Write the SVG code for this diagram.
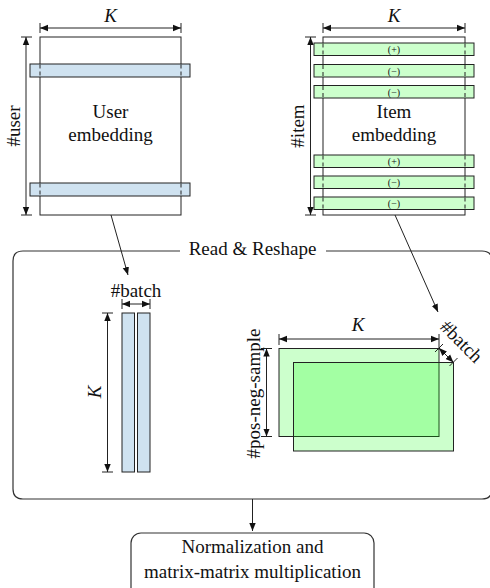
<svg xmlns="http://www.w3.org/2000/svg" width="490" height="588" viewBox="0 0 490 588">
<defs>
<marker id="ah" viewBox="0 0 10 10" refX="10" refY="5" markerWidth="8" markerHeight="8" markerUnits="userSpaceOnUse" orient="auto-start-reverse">
<path d="M0,1 L10,5 L0,9 z" fill="#111"/>
</marker>
</defs>
<style>
text{font-family:"Liberation Serif","DejaVu Serif",serif;fill:#111;font-size:19px}
.it{font-style:italic}
.sm{font-size:10px}
.ln{stroke:#222;stroke-width:1;fill:none}
.dim{stroke:#222;stroke-width:1;fill:none;marker-start:url(#ah);marker-end:url(#ah)}
.tick{stroke:#222;stroke-width:1}
.mat{fill:#fff;stroke:#222;stroke-width:1}
.blue{fill:#cfe2f0;stroke:#222;stroke-width:1}
.green{fill:#ccffcc;stroke:#222;stroke-width:1}
.dash{stroke:#222;stroke-width:1;stroke-dasharray:4,3}
.tr{fill:#00ff00;fill-opacity:0.2;stroke:#222;stroke-width:1}
.box{fill:none;stroke:#333;stroke-width:1.2}
</style>

<g id="user-embedding">
<rect class="mat" x="40" y="37" width="141" height="178"/>
<rect class="blue" x="30" y="64" width="160" height="13"/>
<rect class="blue" x="30" y="183" width="160" height="13"/>
<line class="dash" x1="40" y1="64.5" x2="40" y2="76.5"/>
<line class="dash" x1="181" y1="64.5" x2="181" y2="76.5"/>
<line class="dash" x1="40" y1="183.5" x2="40" y2="195.5"/>
<line class="dash" x1="181" y1="183.5" x2="181" y2="195.5"/>
<text x="110.5" y="118" text-anchor="middle">User</text>
<text x="110.5" y="141" text-anchor="middle">embedding</text>
<line class="tick" x1="40" y1="23" x2="40" y2="33"/>
<line class="tick" x1="181" y1="23" x2="181" y2="33"/>
<line class="dim" x1="40" y1="28" x2="181" y2="28"/>
<text class="it" x="110.5" y="21.5" text-anchor="middle">K</text>
<line class="tick" x1="21" y1="37" x2="32" y2="37"/>
<line class="tick" x1="21" y1="215" x2="32" y2="215"/>
<line class="dim" x1="26" y1="37" x2="26" y2="215"/>
<text transform="translate(20,126) rotate(-90)" text-anchor="middle">#user</text>
</g>

<g id="item-embedding">
<rect class="mat" x="323" y="37" width="142" height="178"/>
<rect class="green" x="314" y="43" width="160" height="12.5"/>
<rect class="green" x="314" y="64.5" width="160" height="12.5"/>
<rect class="green" x="314" y="85.5" width="160" height="12.5"/>
<rect class="green" x="314" y="155" width="160" height="12.5"/>
<rect class="green" x="314" y="176" width="160" height="12.5"/>
<rect class="green" x="314" y="197" width="160" height="12.5"/>
<path class="dash" d="M323,43.5V55M465,43.5V55M323,65V76.5M465,65V76.5M323,86V97.5M465,86V97.5M323,155.5V167M465,155.5V167M323,176.5V188M465,176.5V188M323,197.5V209M465,197.5V209"/>
<text class="sm" x="394" y="53" text-anchor="middle">(+)</text>
<text class="sm" x="394" y="74.5" text-anchor="middle">(−)</text>
<text class="sm" x="394" y="95.5" text-anchor="middle">(−)</text>
<text class="sm" x="394" y="165" text-anchor="middle">(+)</text>
<text class="sm" x="394" y="186" text-anchor="middle">(−)</text>
<text class="sm" x="394" y="207" text-anchor="middle">(−)</text>
<text x="394" y="118" text-anchor="middle">Item</text>
<text x="394" y="141" text-anchor="middle">embedding</text>
<line class="tick" x1="323" y1="23" x2="323" y2="33"/>
<line class="tick" x1="465" y1="23" x2="465" y2="33"/>
<line class="dim" x1="323" y1="28" x2="465" y2="28"/>
<text class="it" x="394" y="21.5" text-anchor="middle">K</text>
<line class="tick" x1="305" y1="37" x2="316" y2="37"/>
<line class="tick" x1="305" y1="215" x2="316" y2="215"/>
<line class="dim" x1="310.5" y1="37" x2="310.5" y2="215"/>
<text transform="translate(304,126) rotate(-90)" text-anchor="middle">#item</text>
</g>

<g id="read-reshape">
<path class="box" d="M180,251 H23 Q13,251 13,261 V489 Q13,499 23,499 H482 Q492,499 492,489 V261 Q492,251 482,251 H326"/>
<text x="252.5" y="254.5" text-anchor="middle">Read &amp; Reshape</text>
</g>

<g id="user-batch">
<rect class="blue" x="122" y="313" width="12.5" height="159"/>
<rect class="blue" x="137.5" y="313" width="12.5" height="159"/>
<line class="tick" x1="122" y1="299" x2="122" y2="309"/>
<line class="tick" x1="150" y1="299" x2="150" y2="309"/>
<line class="dim" x1="122" y1="304" x2="150" y2="304"/>
<text x="136" y="297" text-anchor="middle">#batch</text>
<line class="tick" x1="102" y1="313" x2="113" y2="313"/>
<line class="tick" x1="102" y1="472" x2="113" y2="472"/>
<line class="dim" x1="107.5" y1="313" x2="107.5" y2="472"/>
<text class="it" transform="translate(101,392) rotate(-90)" text-anchor="middle">K</text>
</g>

<g id="item-batch">
<rect class="tr" x="279" y="348.5" width="160" height="88"/>
<rect class="tr" x="293.5" y="362.5" width="160" height="88.5"/>
<line class="tick" x1="279" y1="334" x2="279" y2="345"/>
<line class="tick" x1="439" y1="334" x2="439" y2="350"/>
<line class="dim" x1="279" y1="339" x2="439" y2="339"/>
<text class="it" x="358" y="331" text-anchor="middle">K</text>
<line class="tick" x1="261" y1="348.5" x2="272" y2="348.5"/>
<line class="tick" x1="261" y1="436.5" x2="272" y2="436.5"/>
<line class="dim" x1="266.5" y1="348.5" x2="266.5" y2="436.5"/>
<text transform="translate(260,393.5) rotate(-90)" text-anchor="middle">#pos-neg-sample</text>
<line class="tick" x1="435" y1="352" x2="443" y2="344"/>
<line class="tick" x1="449.5" y1="366" x2="457.5" y2="358"/>
<line class="dim" x1="439" y1="348" x2="453.5" y2="362.5"/>
<text transform="translate(457,346) rotate(45)" text-anchor="middle">#batch</text>
</g>

<g id="normalization">
<rect class="box" x="131" y="533" width="243" height="70" rx="10"/>
<text x="252.5" y="553" text-anchor="middle">Normalization and</text>
<text x="252.5" y="578" text-anchor="middle">matrix-matrix multiplication</text>
</g>

<g id="connectors">
<line class="ln" x1="111" y1="215" x2="128" y2="275" marker-end="url(#ah)"/>
<line class="ln" x1="395" y1="215" x2="438" y2="312" marker-end="url(#ah)"/>
<line class="ln" x1="252.5" y1="499" x2="252.5" y2="531" marker-end="url(#ah)"/>
</g>
</svg>
